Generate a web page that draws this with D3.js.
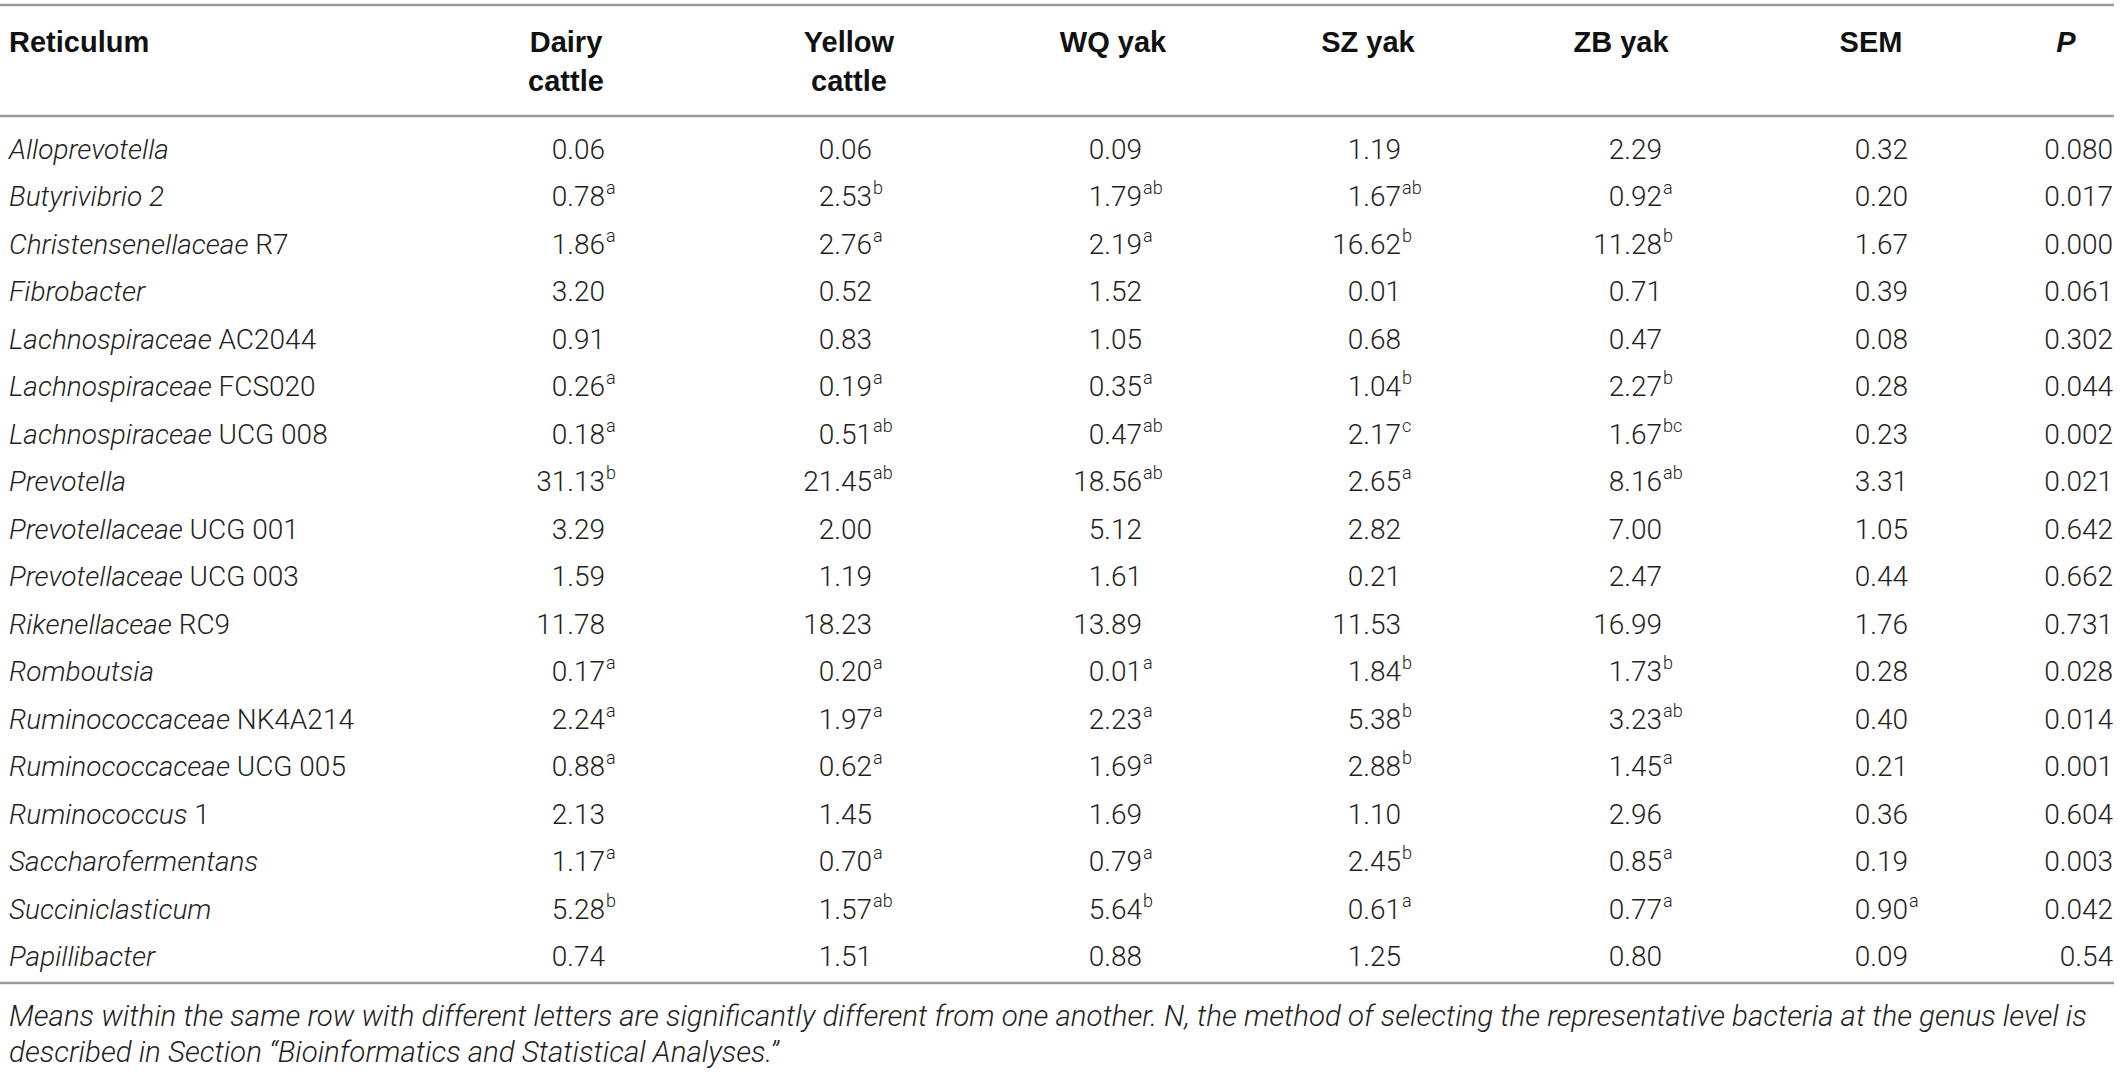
<!DOCTYPE html>
<html>
<head>
<meta http-equiv="Content-Type" content="text/html; charset=UTF-8">
<style>
body { margin: 0; background: #fff; }
svg { display: block; }
text { font-family: Roboto, "Liberation Sans", sans-serif; fill: #231f20; }
.body { font-size: 28px; font-weight: 300; }
.head { font-family: "Liberation Sans", Arial, sans-serif; font-size: 29px; font-weight: 700; fill: #111; }
.sup { font-size: 18px; font-weight: 300; }
.rule { stroke: #9a9a9a; stroke-width: 2.5px; }
.note { font-size: 29.5px; font-weight: 300; font-style: italic; }
</style>
</head>
<body>
<svg width="2120" height="1078"></svg>
<script src="https://cdn.jsdelivr.net/npm/d3@7"></script>
<script>

// row labels: italic genus part and roman suffix
var genus = ["Alloprevotella", "Butyrivibrio 2", "Christensenellaceae", "Fibrobacter",
  "Lachnospiraceae", "Lachnospiraceae", "Lachnospiraceae", "Prevotella",
  "Prevotellaceae", "Prevotellaceae", "Rikenellaceae", "Romboutsia",
  "Ruminococcaceae", "Ruminococcaceae", "Ruminococcus", "Saccharofermentans",
  "Succiniclasticum", "Papillibacter"];
var suffix = ["", "", " R7", "", " AC2044", " FCS020", " UCG 008", "", " UCG 001", " UCG 003",
  " RC9", "", " NK4A214", " UCG 005", " 1", "", "", ""];

var columns = ["dairy", "yellow", "wq", "sz", "zb", "sem", "p"];
var headers = [["Dairy", "cattle"], ["Yellow", "cattle"], ["WQ yak"], ["SZ yak"], ["ZB yak"], ["SEM"], ["P"]];

var dairy  = [0.06, 0.78, 1.86, 3.20, 0.91, 0.26, 0.18, 31.13, 3.29, 1.59, 11.78, 0.17, 2.24, 0.88, 2.13, 1.17, 5.28, 0.74];
var yellow = [0.06, 2.53, 2.76, 0.52, 0.83, 0.19, 0.51, 21.45, 2.00, 1.19, 18.23, 0.20, 1.97, 0.62, 1.45, 0.70, 1.57, 1.51];
var wq     = [0.09, 1.79, 2.19, 1.52, 1.05, 0.35, 0.47, 18.56, 5.12, 1.61, 13.89, 0.01, 2.23, 1.69, 1.69, 0.79, 5.64, 0.88];
var sz     = [1.19, 1.67, 16.62, 0.01, 0.68, 1.04, 2.17, 2.65, 2.82, 0.21, 11.53, 1.84, 5.38, 2.88, 1.10, 2.45, 0.61, 1.25];
var zb     = [2.29, 0.92, 11.28, 0.71, 0.47, 2.27, 1.67, 8.16, 7.00, 2.47, 16.99, 1.73, 3.23, 1.45, 2.96, 0.85, 0.77, 0.80];
var sem    = [0.32, 0.20, 1.67, 0.39, 0.08, 0.28, 0.23, 3.31, 1.05, 0.44, 1.76, 0.28, 0.40, 0.21, 0.36, 0.19, 0.90, 0.09];
var pval   = ["0.080", "0.017", "0.000", "0.061", "0.302", "0.044", "0.002", "0.021", "0.642", "0.662",
  "0.731", "0.028", "0.014", "0.001", "0.604", "0.003", "0.042", "0.54"];

var dairyLet  = ["", "a", "a", "", "", "a", "a", "b", "", "", "", "a", "a", "a", "", "a", "b", ""];
var yellowLet = ["", "b", "a", "", "", "a", "ab", "ab", "", "", "", "a", "a", "a", "", "a", "ab", ""];
var wqLet     = ["", "ab", "a", "", "", "a", "ab", "ab", "", "", "", "a", "a", "a", "", "a", "b", ""];
var szLet     = ["", "ab", "b", "", "", "b", "c", "a", "", "", "", "b", "b", "b", "", "b", "a", ""];
var zbLet     = ["", "a", "b", "", "", "b", "bc", "ab", "", "", "", "b", "ab", "a", "", "a", "a", ""];
var semLet    = ["", "", "", "", "", "", "", "", "", "", "", "", "", "", "", "", "a", ""];

var notes = ["Means within the same row with different letters are significantly different from one another. N, the method of selecting the representative bacteria at the genus level is",
  "described in Section \u201cBioinformatics and Statistical Analyses.\u201d"];

var fmt = d3.format(".2f");
var cells = {
  dairy: dairy.map(fmt), yellow: yellow.map(fmt), wq: wq.map(fmt), sz: sz.map(fmt),
  zb: zb.map(fmt), sem: sem.map(fmt), p: pval
};
var sups = { dairy: dairyLet, yellow: yellowLet, wq: wqLet, sz: szLet, zb: zbLet, sem: semLet,
  p: pval.map(function() { return ""; }) };

var svg = d3.select("svg");

var rows = d3.range(genus.length);
var y = d3.scalePoint().domain(rows).range([149, 956]);
var xRight = d3.scaleOrdinal().domain(columns).range([605, 872, 1142, 1401, 1662, 1908, 2113]);
var xHead = d3.scaleOrdinal().domain(columns).range([566, 849, 1113, 1368, 1621, 1871, 2066]);

// rules
[5, 116, 983].forEach(function(ry) {
  svg.append("line").attr("class", "rule")
    .attr("x1", 0).attr("x2", 2114).attr("y1", ry).attr("y2", ry);
});

// header
var base = 10;
svg.append("text").attr("class", "head").attr("x", 9).attr("y", 42 + base).text("Reticulum");
columns.forEach(function(c, i) {
  var t = svg.append("text").attr("class", "head")
    .attr("text-anchor", "middle")
    .attr("x", xHead(c))
    .style("font-style", c === "p" ? "italic" : null);
  headers[i].forEach(function(s, k) {
    t.append("tspan").attr("x", xHead(c)).attr("y", (k === 0 ? 42 : 81) + base).text(s);
  });
});

// row labels
var lab = svg.selectAll(".lab").data(rows).enter().append("text")
  .attr("class", "body lab")
  .attr("x", 9)
  .attr("y", function(d) { return y(d) + base; });
lab.append("tspan").style("font-style", "italic").text(function(d) { return genus[d]; });
lab.append("tspan").text(function(d) { return suffix[d]; });

// values
columns.forEach(function(c) {
  svg.selectAll(".v-" + c).data(rows).enter().append("text")
    .attr("class", "body v-" + c)
    .attr("text-anchor", "end")
    .attr("x", xRight(c))
    .attr("y", function(d) { return y(d) + base; })
    .text(function(d) { return cells[c][d]; });
  svg.selectAll(".s-" + c).data(rows.filter(function(d) { return sups[c][d]; })).enter().append("text")
    .attr("class", "sup s-" + c)
    .attr("x", xRight(c) + 1)
    .attr("y", function(d) { return y(d) - 2; })
    .text(function(d) { return sups[c][d]; });
});

// footnote
svg.selectAll(".note").data(notes).enter().append("text")
  .attr("class", "note")
  .attr("x", 9)
  .attr("y", function(d, i) { return 1016 + i * 36 + base; })
  .text(function(d) { return d; });

</script>
</body></html>
